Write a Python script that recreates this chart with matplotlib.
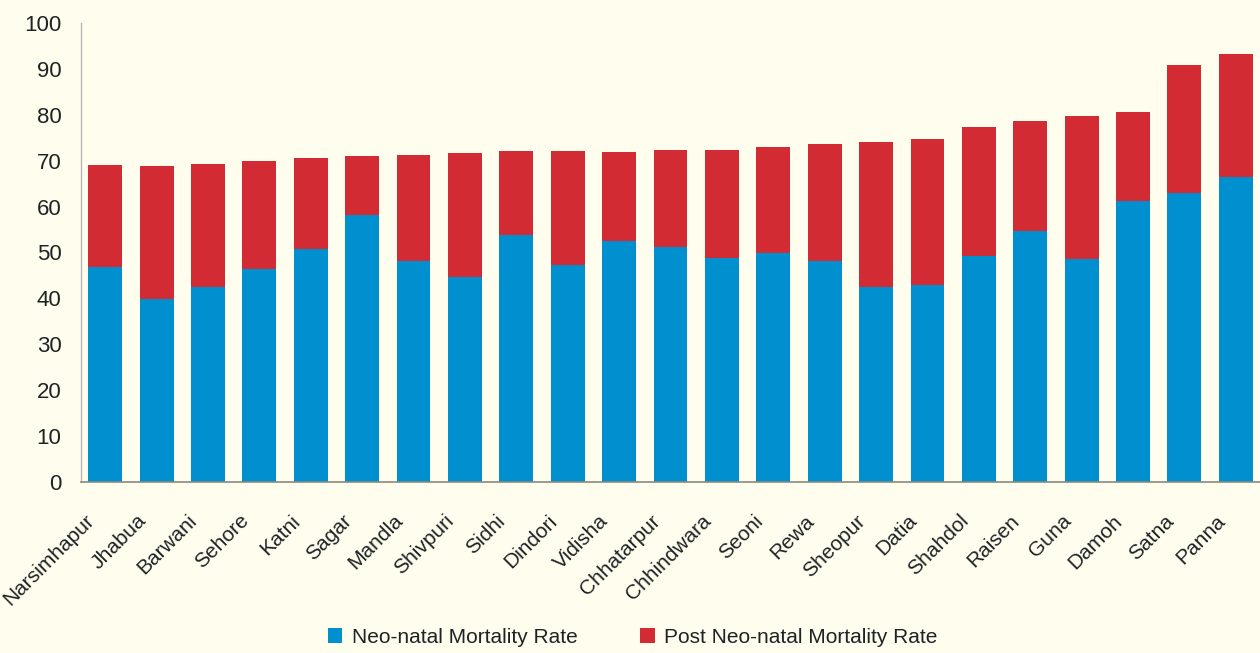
import matplotlib
matplotlib.use("Agg")
import matplotlib.pyplot as plt
import matplotlib.transforms as mtransforms
from matplotlib.patches import Patch

districts = ["Narsimhapur", "Jhabua", "Barwani", "Sehore", "Katni", "Sagar",
             "Mandla", "Shivpuri", "Sidhi", "Dindori", "Vidisha", "Chhatarpur",
             "Chhindwara", "Seoni", "Rewa", "Sheopur", "Datia", "Shahdol",
             "Raisen", "Guna", "Damoh", "Satna", "Panna"]
total_imr = [69.0, 68.8, 69.2, 69.9, 70.5, 71.0, 71.2, 71.6, 72.1, 72.1, 71.8,
             72.3, 72.3, 72.9, 73.6, 74.0, 74.7, 77.3, 78.6, 79.7, 80.6, 90.8, 93.2]
neonatal = [46.9, 39.9, 42.4, 46.3, 50.7, 58.1, 48.2, 44.7, 53.9, 47.3, 52.4,
            51.1, 48.9, 49.9, 48.2, 42.4, 42.9, 49.3, 54.6, 48.6, 61.3, 62.9, 66.4]
post_neonatal = [round(t - n, 1) for t, n in zip(total_imr, neonatal)]

series_labels = ["Neo-natal Mortality Rate", "Post Neo-natal Mortality Rate"]
y_ticks = list(range(0, 101, 10))

BG = "#FFFDEE"
BLUE = "#008FCF"
RED = "#D22B33"
TEXT = "#1E2326"

plt.rcParams["font.family"] = ["Liberation Sans", "DejaVu Sans"]

fig = plt.figure(figsize=(12.6, 6.53), dpi=100, facecolor=BG)
ax = fig.add_axes([0.0643, 0.2619, 0.9357, 0.7029])
ax.set_facecolor(BG)

x = list(range(len(districts)))
ax.bar(x, neonatal, width=0.66, color=BLUE, label=series_labels[0], zorder=2)
ax.bar(x, post_neonatal, width=0.66, bottom=neonatal, color=RED,
       label=series_labels[1], zorder=2)

ax.set_xlim(-0.47, len(districts) - 0.53)
ax.set_ylim(0, 100)
ax.set_yticks(y_ticks)
ax.tick_params(axis="y", length=0, pad=14, labelsize=16, labelcolor=TEXT)
ax.tick_params(axis="x", length=0, pad=21, labelsize=15, labelcolor=TEXT)

ax.set_xticks(x)
ax.set_xticklabels(districts, rotation=45, ha="right", va="top")
shift = mtransforms.ScaledTranslation(-7 / 100, 0, fig.dpi_scale_trans)
for lbl in ax.get_xticklabels():
    lbl.set_transform(lbl.get_transform() + shift)

for side in ("top", "right"):
    ax.spines[side].set_visible(False)
ax.spines["left"].set_color("#B8B8B8")
ax.spines["left"].set_linewidth(1.0)
ax.spines["bottom"].set_color("#8A8A80")
ax.spines["bottom"].set_linewidth(1.2)
ax.spines["bottom"].set_zorder(3)

handles = [Patch(facecolor=BLUE, label=series_labels[0]),
           Patch(facecolor=RED, label=series_labels[1])]
fig.legend(handles=handles, loc="center", bbox_to_anchor=(0.502, 0.0245),
           ncol=2, frameon=False, fontsize=15, handlelength=0.7,
           handleheight=0.7, handletextpad=0.45, columnspacing=3.0,
           labelcolor=TEXT, borderaxespad=0, borderpad=0)

fig.savefig("out.png", dpi=100, facecolor=BG)
